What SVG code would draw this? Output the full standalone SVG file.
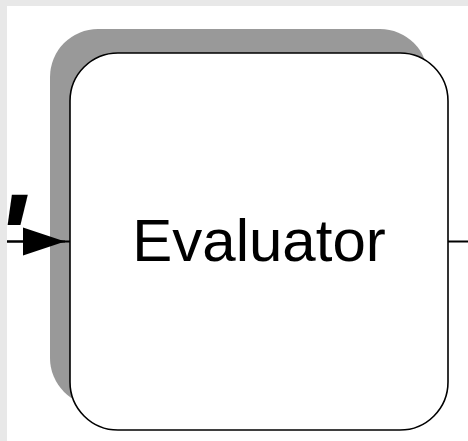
<svg xmlns="http://www.w3.org/2000/svg" width="468" height="441" viewBox="0 0 468 441">
  <style>
    .shadow { fill: #999999; }
    .box { fill: #ffffff; stroke: #000000; stroke-width: 1.6; }
    .label { font-family: "Liberation Sans", Arial, sans-serif; font-size: 60px; fill: #000000; }
    .edge { stroke: #000000; stroke-width: 2; fill: none; }
    .frame { fill: #e8e8e8; }
  </style>
  <defs>
    <marker id="arrow" markerUnits="userSpaceOnUse" markerWidth="46" markerHeight="32" refX="44" refY="16" orient="auto">
      <path d="M2,2 L44,16 L2,30 Z" fill="#000000"/>
    </marker>
  </defs>

  <rect x="0" y="0" width="468" height="441" fill="#ffffff"/>

  <!-- Evaluator node -->
  <g id="evaluator">
    <rect class="shadow" x="50" y="29" width="378" height="377" rx="48" ry="48"/>
    <rect class="box" x="70" y="53" width="378" height="377" rx="48" ry="48"/>
    <text class="label" x="259" y="261" text-anchor="middle">Evaluator</text>
  </g>

  <!-- connectors -->
  <g id="connectors">
    <line class="edge" x1="4" y1="241.5" x2="70" y2="241.5"/>
    <line class="edge" x1="4" y1="241.5" x2="65" y2="241.5" marker-end="url(#arrow)"/>
    <line class="edge" x1="448" y1="241.5" x2="468" y2="241.5"/>
    <text x="-4" y="278" font-family="Liberation Sans, Arial, sans-serif" font-size="120" font-weight="bold" font-style="italic" fill="#000000">'</text>
  </g>

  <!-- window frame -->
  <rect class="frame" x="0" y="0" width="468" height="6"/>
  <rect class="frame" x="0" y="0" width="7" height="441"/>
</svg>
